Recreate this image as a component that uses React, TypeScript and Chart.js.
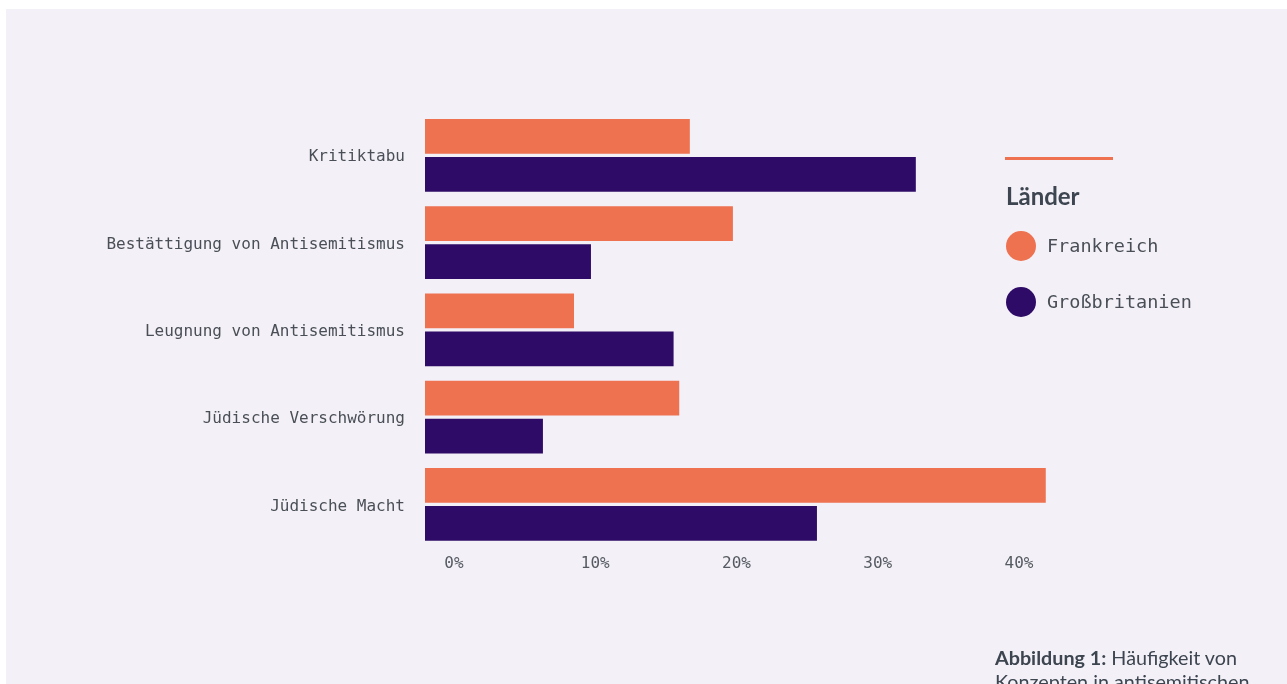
import React, { useEffect, useRef } from "react";
import { Chart, registerables } from "chart.js";

Chart.register(...registerables);

const categories = [
  "Kritiktabu",
  "Bestättigung von Antisemitismus",
  "Leugnung von Antisemitismus",
  "Jüdische Verschwörung",
  "Jüdische Macht",
];
const frankreich = [18.75, 21.8, 10.55, 18.0, 43.95];
const grossbritanien = [34.75, 11.75, 17.6, 8.35, 27.75];
const xTicks = [0, 10, 20, 30, 40];
const seriesNames = ["Frankreich", "Großbritanien"];
const seriesColors = ["#ee7150", "#2e0b66"];
const legendTitle = "Länder";
const captionBold = "Abbildung 1:";
const captionLine1 = " Häufigkeit von";
const captionLine2 = "Konzepten in antisemitischen";

const MONO = "'DejaVu Sans Mono', 'Liberation Mono', monospace";
const SANS = "Lato, 'Open Sans', sans-serif";

export default function App() {
  const ref = useRef<HTMLCanvasElement | null>(null);

  useEffect(() => {
    if (!ref.current) return;
    const chart = new Chart(ref.current, {
      type: "bar",
      data: {
        labels: categories,
        datasets: [
          {
            label: seriesNames[0],
            data: frankreich,
            backgroundColor: seriesColors[0],
            categoryPercentage: 0.871,
            barPercentage: 0.913,
          },
          {
            label: seriesNames[1],
            data: grossbritanien,
            backgroundColor: seriesColors[1],
            categoryPercentage: 0.871,
            barPercentage: 0.913,
          },
        ],
      },
      options: {
        indexAxis: "y",
        animation: false,
        responsive: false,
        devicePixelRatio: 1,
        layout: { padding: { left: 0, top: 102.7, right: 226.4, bottom: 95.9 } },
        plugins: { legend: { display: false }, tooltip: { enabled: false } },
        scales: {
          x: {
            type: "linear",
            min: 0,
            max: 45,
            grid: { display: false, drawTicks: false },
            border: { display: false },
            afterFit: (scale: any) => {
              scale.height = 40;
            },
            afterBuildTicks: (scale: any) => {
              scale.ticks = xTicks.map((v) => ({ value: v }));
            },
            ticks: {
              padding: 6,
              labelOffset: 29,
              maxRotation: 0,
              color: "#555a62",
              font: { family: MONO, size: 16 },
              callback: (v: any) => v + "%",
            },
          },
          y: {
            type: "category",
            grid: { display: false, drawTicks: false },
            border: { display: false },
            afterFit: (scale: any) => {
              scale.width = 419;
            },
            ticks: {
              padding: 20,
              labelOffset: 2,
              color: "#4a4f57",
              font: { family: MONO, size: 16 },
            },
          },
        },
      },
    });
    return () => chart.destroy();
  }, []);

  return (
    <div
      style={{
        position: "fixed",
        left: 6,
        top: 9,
        right: 0,
        bottom: 0,
        background: "#f3f1f7",
        overflow: "hidden",
      }}
    >
      <canvas ref={ref} width={1281} height={675} style={{ position: "absolute", left: 0, top: 0 }} />
      <div
        style={{
          position: "absolute",
          left: 998.7,
          top: 148.3,
          width: 108.6,
          height: 3,
          background: seriesColors[0],
        }}
      />
      <div
        style={{
          position: "absolute",
          left: 1000,
          top: 174.7,
          fontFamily: SANS,
          fontWeight: 700,
          fontSize: 24,
          lineHeight: "24px",
          color: "#3d4550",
        }}
      >
        {legendTitle}
      </div>
      {seriesNames.map((name, i) => (
        <div
          key={name}
          style={{
            position: "absolute",
            left: 999.7,
            top: 221.7 + i * 56,
            height: 30,
            display: "flex",
            alignItems: "center",
          }}
        >
          <div
            style={{
              width: 30,
              height: 30,
              borderRadius: "50%",
              background: seriesColors[i],
              marginRight: 11.3,
            }}
          />
          <span style={{ fontFamily: MONO, fontSize: 18.5, color: "#4a4f57", whiteSpace: "nowrap" }}>{name}</span>
        </div>
      ))}
      <div
        style={{
          position: "absolute",
          left: 989,
          top: 637.3,
          fontFamily: SANS,
          fontSize: 19.75,
          lineHeight: "24px",
          color: "#3d4550",
          whiteSpace: "nowrap",
        }}
      >
        <span style={{ fontWeight: 700 }}>{captionBold}</span>
        {captionLine1}
        <br />
        {captionLine2}
      </div>
    </div>
  );
}
